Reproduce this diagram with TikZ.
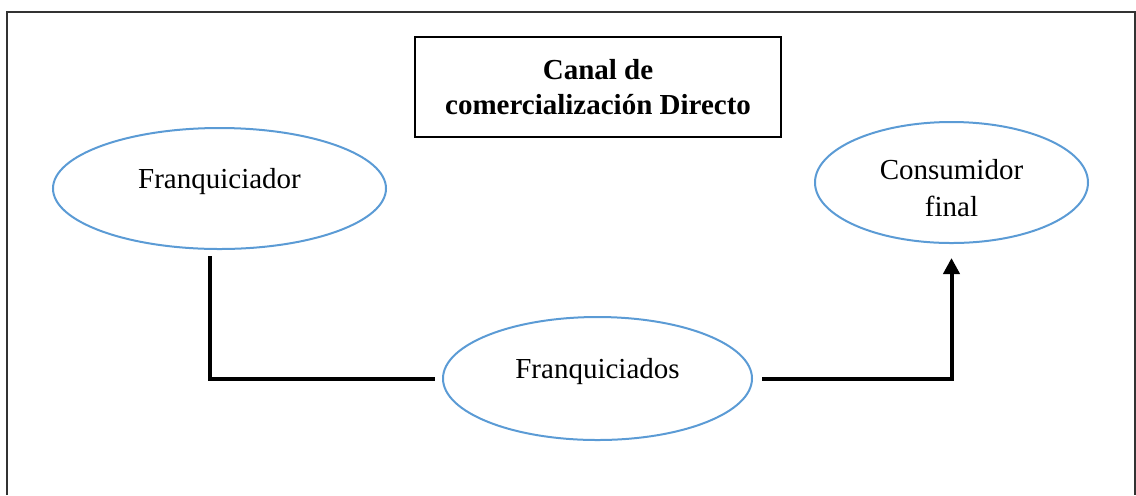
\documentclass[tikz,border=0pt]{standalone}
\usepackage{fontspec}
\setmainfont{Liberation Serif}
\usetikzlibrary{arrows.meta,shapes.geometric}
\definecolor{ovalblue}{RGB}{91,155,213}

\begin{document}
\begin{tikzpicture}[x=0.5pt,y=-0.5pt,>={Triangle[length=8pt,width=8pt]},
    font=\fontsize{14.5}{17.5}\selectfont,
    oval/.style={ellipse,draw=ovalblue,line width=1pt,inner sep=0pt},
    flow/.style={line width=2pt}]
    \useasboundingbox (0,0) rectangle (1136,495);
    \draw[line width=0.6pt,black!80] (7,495) -- (7,12) -- (1135,12) -- (1135,495);
    \node[draw,line width=0.6pt,minimum width=183pt,minimum height=50pt,align=center,
      font=\fontsize{14.5}{17.5}\selectfont\bfseries] (canal) at (598,87) {Canal de\\comercialización Directo};
    \node[oval,minimum width=166.5pt,minimum height=60.5pt,text height=10pt,text depth=10pt] (fdor) at (219.5,188.5) {Franquiciador};
    \node[oval,minimum width=154.5pt,minimum height=61.5pt,text height=10pt,text depth=10pt] (fdos) at (597.5,378.5) {Franquiciados};
    \node[oval,minimum width=136.5pt,minimum height=60.5pt,align=center,text height=34pt,text depth=0pt] (cons) at (951.5,182.5) {Consumidor\\[1pt]final};
    \draw[flow] ([shift={(-10,6)}]fdor.south) |- ([shift={(-7,0)}]fdos.west);
    \draw[flow,->] ([shift={(9,0)}]fdos.east) -| ([shift={(0,14)}]cons.south);
\end{tikzpicture}
\end{document}
